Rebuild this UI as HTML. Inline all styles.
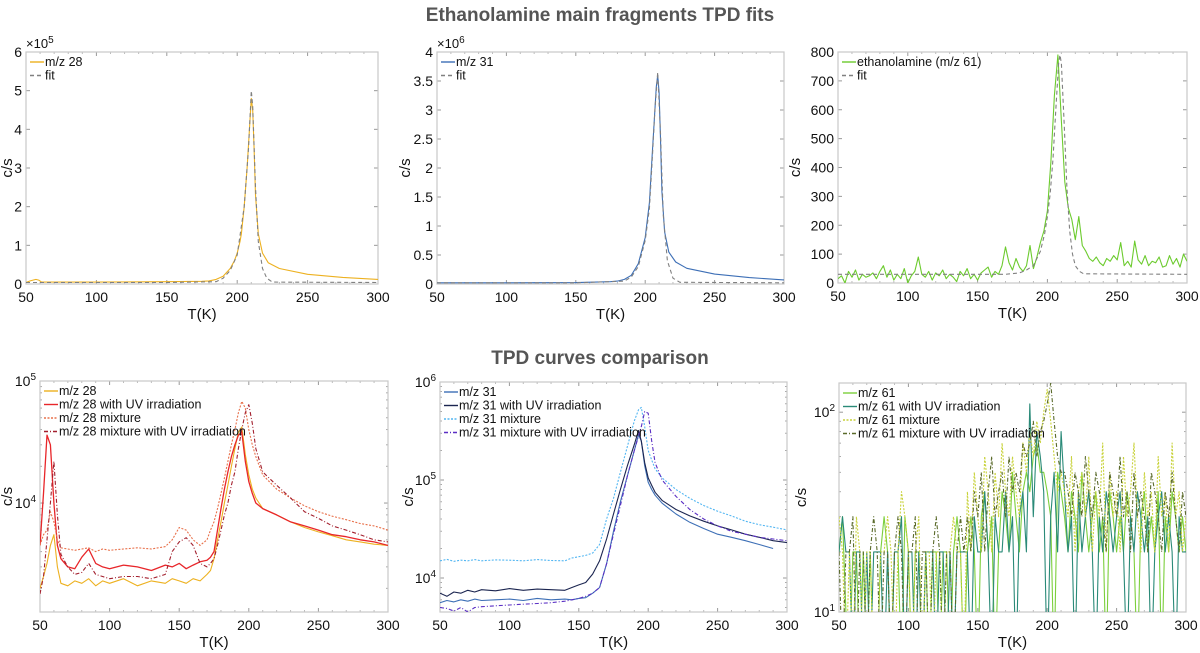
<!DOCTYPE html>
<html><head><meta charset="utf-8">
<style>
body{margin:0;background:#fff;}
svg{display:block;font-family:"Liberation Sans",Arial,sans-serif;}
</style></head>
<body>
<svg id="fig" width="1200" height="653" viewBox="0 0 1200 653">
<text x="600" y="21" text-anchor="middle" font-size="19" font-weight="bold" fill="#555">Ethanolamine main fragments TPD fits</text>
<text x="600" y="364" text-anchor="middle" font-size="19" font-weight="bold" fill="#555">TPD curves comparison</text>
</svg>
<script>
// ---- Top-left: m/z 28 (x1e5)
const tA_T=[50,53,55,57,59,61,65,100,150,175,180,185,190,195,198,200,202,203,205,207,209,210,211,212,213,215,218,222,230,250,275,300];
const tA_v=[0.04,0.08,0.1,0.12,0.1,0.05,0.05,0.05,0.06,0.07,0.08,0.12,0.2,0.4,0.6,0.8,1.1,1.3,2.0,3.0,4.2,4.8,4.5,3.5,2.3,1.3,0.8,0.55,0.4,0.25,0.17,0.12];
const tAfit_T=[50,150,185,190,195,200,205,208,210,211,213,215,218,221,225,300];
const tAfit_v=[0.04,0.04,0.06,0.15,0.35,0.75,2.0,3.5,5.0,4.6,2.5,1.1,0.4,0.15,0.05,0.04];
// ---- Top-mid: m/z 31 (x1e6)
const tB_T=[50,100,150,175,180,185,190,195,200,203,205,207,208,209,210,211,212,214,217,222,230,250,275,300];
const tB_v=[0.02,0.02,0.025,0.04,0.05,0.08,0.15,0.35,0.8,1.4,2.2,3.0,3.4,3.6,3.3,2.5,1.6,0.9,0.55,0.38,0.27,0.17,0.11,0.07];
const tBfit_T=[50,150,185,190,195,200,203,205,207,209,211,213,216,220,225,300];
const tBfit_v=[0.02,0.02,0.05,0.12,0.3,0.75,1.3,2.1,3.0,3.65,2.6,1.2,0.4,0.1,0.03,0.02];
// ---- Top-right: m/z 61 (step 2.5 from 50)
const tC_v=[15,25,0,40,20,45,10,30,20,25,35,15,40,60,20,45,10,30,15,50,0,25,40,90,30,20,40,10,35,25,45,15,30,20,5,40,25,50,15,30,10,35,45,55,20,40,30,
60,125,70,45,85,55,40,60,130,50,
90,140,180,250,420,650,790,560,350,260,
220,150,230,130,110,85,75,90,70,60,85,75,95,80,140,60,75,55,145,80,65,95,60,75,70,90,55,60,95,65,85,55,100,75];
const tCfit_T=[50,170,180,185,190,195,198,200,202,204,206,208,209,210,212,214,216,218,220,223,226,300];
const tCfit_v=[30,30,35,45,60,110,170,230,310,430,600,760,790,760,550,330,180,100,60,40,32,30];
// ---- Bottom-left (x1e3), step 2.5 keypoints
const bA_T=[50,52.5,55,57.5,60,62.5,65,70,75,80,85,90,95,100,110,120,130,140,145,150,155,160,165,170,172.5,175,177.5,180,182.5,185,187.5,190,192.5,195,197.5,200,202.5,205,210,220,230,240,250,260,270,280,290,300];
const bA_s1=[2.0,2.5,3.2,4.5,5.5,3.0,2.2,2.1,2.3,2.2,2.4,2.1,2.3,2.2,2.4,2.1,2.3,2.2,2.4,2.3,2.2,2.4,2.3,2.6,2.8,3.5,5,7,10,14,20,28,38,42,25,17,13,11,9,8,7,6.3,5.8,5.4,5.0,4.8,4.6,4.5];
const bA_s2=[4.5,12,36,30,10,4.5,3.5,3.0,2.9,3.6,4.2,3.2,3.0,2.9,3.1,3.0,2.8,3.1,3.0,3.2,2.9,3.1,3.3,3.4,3.6,4,6,9,13,18,24,30,36,38,22,15,12,10,9,8,7,6.5,6,5.5,5.3,5,4.8,4.5];
const bA_s3=[4.5,5.5,6,8.5,7,5,4.3,4.2,4.1,4.2,4.3,4.0,4.2,4.1,4.2,4.3,4.2,4.4,5,6.3,6,5,4.5,5,6,7,9,12,16,22,30,40,55,68,60,40,30,24,17,13,11,9.5,8.5,7.8,7.3,6.8,6.5,6];
const bA_s4=[1.8,2.5,5,10,22,8,3.8,3,2.6,2.7,3.2,2.6,2.5,2.4,2.5,2.5,2.4,2.6,4,4.8,5.2,4.5,3.2,3,3.2,3.5,4.5,6,8,10,14,18,28,40,55,64,45,28,18,14,11,8.5,7.5,6.5,6,5.5,5,4.8];
// ---- Bottom-mid (x1e3)
const bB_T=[50,55,60,65,70,75,80,90,100,110,120,130,140,145,150,155,160,165,170,175,180,185,190,193,195,197.5,200,202.5,205,210,220,230,240,250,260,270,280,290,300];
const bB_s1=[5.6,5.9,5.7,6.0,5.8,6.1,5.9,6.0,6.1,5.9,6.2,6.0,6.1,6.0,6.2,6.3,7,8,14,30,60,110,200,290,250,140,95,80,70,58,45,37,32,28,26,24,22,20,null];
const bB_s2=[7,6.5,7.2,7.0,7.5,7.2,7.6,7.4,7.8,7.5,7.7,7.6,7.5,8,8.5,9,11,15,25,45,80,140,230,320,250,150,105,88,75,62,50,43,38,34,31,28,26,24,23];
const bB_s3=[15,15.5,14.8,15.2,15,15.4,15,15.3,15.2,15,15.4,15.1,15,16,16.5,17,18,22,40,65,120,220,400,520,550,350,200,160,130,105,80,65,55,48,43,38,35,33,31];
const bB_s4=[5,4.9,4.6,5,4.5,5,5.1,5.2,5.3,5.4,5.5,5.6,5.8,6,6.2,6.5,7,8,14,28,55,110,200,280,350,500,480,250,150,100,68,50,40,34,30,28,26,25,24];
// ---- Bottom-right (step 2.5 from 50), 5 = below axis
const bC_s1=[20,30,10,5,20,20,5,20,5,20,5,5,20,30,20,5,20,20,5,30,20,5,20,20,5,20,5,20,20,5,20,20,5,20,30,20,5,
20,30,20,5,30,40,20,30,5,20,40,30,20,50,30,20,40,50,
40,60,70,50,50,40,30,5,50,40,
30,20,40,30,20,50,30,20,30,40,20,30,5,40,30,20,30,20,40,30,20,5,30,40,20,30,20,40,5,30,20,40,30,20,30,20];
const bC_s2=[20,30,20,20,5,20,20,5,20,5,20,20,20,5,20,5,20,20,30,5,20,20,5,20,5,20,20,20,5,20,20,5,20,5,20,20,20,
20,5,30,20,20,40,20,5,30,20,20,40,20,30,5,30,40,20,
110,30,80,60,40,5,30,50,20,80,
40,20,30,5,40,20,30,40,20,5,30,20,40,30,20,30,40,20,5,30,20,40,30,20,30,5,20,30,40,20,30,20,5,30,20,20];
const bC_s3=[30,20,5,20,5,30,20,5,20,20,5,5,20,20,30,20,5,20,40,30,20,5,20,30,5,20,20,5,20,20,5,20,20,30,20,20,5,
40,20,50,30,20,60,40,20,50,30,70,40,30,60,40,30,70,50,
80,60,90,70,100,130,90,60,40,50,
40,30,60,20,40,50,30,60,20,40,30,70,20,50,30,40,20,60,30,40,70,30,20,50,30,40,20,60,30,40,20,70,30,40,20,30];
const bC_s4=[20,5,20,20,30,5,20,20,5,20,30,20,5,20,20,5,20,30,20,5,20,20,30,5,20,20,5,20,30,20,5,20,20,5,20,30,20,
30,20,40,30,50,20,40,60,30,40,50,30,60,40,50,40,70,60,
70,90,60,80,90,110,140,90,60,50,
50,40,30,50,40,30,60,40,30,50,40,30,20,50,40,30,60,30,40,20,50,30,40,30,20,50,40,30,20,40,30,50,30,20,40,30];

const NS='http://www.w3.org/2000/svg';
const svg=document.getElementById('fig');
function mk(tag,attrs,parent){const e=document.createElementNS(NS,tag);for(const k in attrs)e.setAttribute(k,attrs[k]);(parent||svg).appendChild(e);return e;}
function grid(n){const a=[];for(let i=0;i<n;i++)a.push(50+2.5*i);return a;}
let clipN=0;
function panel(p){
  const g=mk('g',{});
  
  
  const X=t=>p.x0+(t-50)/250*(p.x1-p.x0);
  const Y=p.log?(v=>p.y1-(Math.log10(v)-Math.log10(p.ymin))/(Math.log10(p.ymax)-Math.log10(p.ymin))*(p.y1-p.y0))
               :(v=>p.y1-(v-p.ymin)/(p.ymax-p.ymin)*(p.y1-p.y0));
  const id='c'+(clipN++);
  const cp=mk('clipPath',{id:id},g);mk('rect',{x:p.x0,y:p.y0,width:p.x1-p.x0,height:p.y1-p.y0},cp);
  // x ticks
  for(let t=50;t<=300;t+=50){
    const x=X(t);
    const tk=mk('line',{x1:x,x2:x,y1:p.y1,y2:p.y1-4,stroke:'#999','stroke-width':1},g);
    mk('line',{x1:x,x2:x,y1:p.y0,y2:p.y0+4,stroke:'#999','stroke-width':1},g);
    const lb=mk('text',{x:x,y:p.y1+18,'text-anchor':'middle','font-size':14,fill:'#111'},g);
    lb.textContent=t;
    
    
  }
  for(let t=60;t<300;t+=10){if(t%50===0)continue;const x=X(t);
    mk('line',{x1:x,x2:x,y1:p.y1,y2:p.y1-2,stroke:'#bbb'},g);mk('line',{x1:x,x2:x,y1:p.y0,y2:p.y0+2,stroke:'#bbb'},g);}
  // y ticks
  p.yticks.forEach((v,i)=>{
    const y=Y(v);
    mk('line',{x1:p.x0,x2:p.x0+4,y1:y,y2:y,stroke:'#999'},g);
    mk('line',{x1:p.x1,x2:p.x1-4,y1:y,y2:y,stroke:'#999'},g);
    const lb=mk('text',{x:p.x0-4,y:y+5,'text-anchor':'end','font-size':14,fill:'#111'},g);
    
    
    if(p.log){lb.textContent='10';const s=mk('tspan',{dy:-6,'font-size':10},lb);s.textContent=p.ylabels[i];}
    else lb.textContent=p.ylabels[i];
  });
  if(p.minor)p.minor.forEach(v=>{const y=Y(v);mk('line',{x1:p.x0,x2:p.x0+2,y1:y,y2:y,stroke:'#aaa'},g);mk('line',{x1:p.x1,x2:p.x1-2,y1:y,y2:y,stroke:'#aaa'},g);});
  const box=mk('rect',{x:p.x0,y:p.y0,width:p.x1-p.x0,height:p.y1-p.y0,fill:'none',stroke:'#c8c8c8','stroke-width':1.2},g);
  
  
  const xl=mk('text',{x:(p.x0+p.x1)/2,y:p.y1+35,'text-anchor':'middle','font-size':15,fill:'#111'},g);
  xl.textContent='T(K)';
  
  
  const yx=p.ylx, yy=(p.y0+p.y1)/2;
  const yl=mk('text',{x:yx,y:yy,'text-anchor':'middle','font-size':15,fill:'#111',transform:`rotate(-90 ${yx} ${yy})`},g);
  yl.textContent='c/s';
  
  
  if(p.exp){const e=mk('text',{x:p.x0,y:p.y0-4,'font-size':13,fill:'#111'},g);e.textContent='\u00d710';const s=mk('tspan',{dy:-5,'font-size':10},e);s.textContent=p.exp;
    }
  // series
  const sg=mk('g',{'clip-path':`url(#${id})`},g);
  p.series.forEach((s,k)=>{
    let d='';let pen=false;
    s.T.forEach((t,i)=>{const v=s.v[i];if(v===null||v===undefined){pen=false;return;}
      const vv=p.log?Math.max(v,p.ymin*0.5):v;
      d+=(pen?'L':'M')+X(t).toFixed(1)+','+Y(vv).toFixed(1);pen=true;});
    const pa=mk('path',{d:d,fill:'none',stroke:s.color,'stroke-width':s.w||1.1,'stroke-dasharray':s.dash||'none','stroke-linejoin':'round'},sg);
    
    
    // legend
    const ly=p.y0+14+k*13.5;
    mk('line',{x1:p.x0+4,x2:p.x0+18,y1:ly-4,y2:ly-4,stroke:s.color,'stroke-width':1.4,'stroke-dasharray':s.dash||'none'},g);
    const lt=mk('text',{x:p.x0+19,y:ly,'font-size':12.5,fill:'#111'},g);
    lt.textContent=s.label;
    
    
  });
}
const mul=(a,m)=>a.map(v=>v===null?null:v*m);
const G=grid(101);
panel({name:'panel-mz28-fit',x0:26,x1:378,y0:52,y1:284,ymin:0,ymax:6e5,ylx:12,exp:'5',
  yticks:[0,1e5,2e5,3e5,4e5,5e5,6e5],ylabels:['0','1','2','3','4','5','6'],
  series:[{key:'mz28',label:'m/z 28',color:'#EDB120',T:tA_T,v:mul(tA_v,1e5)},
          {key:'fit28',label:'fit',color:'#808080',dash:'4,3',T:tAfit_T,v:mul(tAfit_v,1e5)}]});
panel({name:'panel-mz31-fit',x0:437,x1:784,y0:52,y1:284,ymin:0,ymax:4e6,ylx:410,exp:'6',
  yticks:[0,5e5,1e6,1.5e6,2e6,2.5e6,3e6,3.5e6,4e6],ylabels:['0','0.5','1','1.5','2','2.5','3','3.5','4'],
  series:[{key:'mz31',label:'m/z 31',color:'#3D6FB6',T:tB_T,v:mul(tB_v,1e6)},
          {key:'fit31',label:'fit',color:'#808080',dash:'4,3',T:tBfit_T,v:mul(tBfit_v,1e6)}]});
panel({name:'panel-mz61-fit',x0:838,x1:1187,y0:52,y1:283,ymin:0,ymax:800,ylx:800,
  yticks:[0,100,200,300,400,500,600,700,800],ylabels:['0','100','200','300','400','500','600','700','800'],
  series:[{key:'mz61',label:'ethanolamine (m/z 61)',color:'#6CCB2E',T:G,v:tC_v},
          {key:'fit61',label:'fit',color:'#808080',dash:'4,3',T:tCfit_T,v:tCfit_v}]});
panel({name:'panel-mz28-compare',x0:40,x1:388,y0:381,y1:612,log:true,ymin:1280,ymax:1e5,ylx:12,
  yticks:[1e4,1e5],ylabels:['4','5'],minor:[2e3,3e3,4e3,5e3,6e3,7e3,8e3,9e3,2e4,3e4,4e4,5e4,6e4,7e4,8e4,9e4],
  series:[{key:'mz28',label:'m/z 28',color:'#EDB120',T:bA_T,v:mul(bA_s1,1e3)},
          {key:'mz28-uv',label:'m/z 28 with UV irradiation',color:'#E8262A',w:1.3,T:bA_T,v:mul(bA_s2,1e3)},
          {key:'mz28-mix',label:'m/z 28 mixture',color:'#E8704A',dash:'2,1.5',T:bA_T,v:mul(bA_s3,1e3)},
          {key:'mz28-mix-uv',label:'m/z 28 mixture with UV irradiation',color:'#A3202E',dash:'4,2,1,2',T:bA_T,v:mul(bA_s4,1e3)}]});
panel({name:'panel-mz31-compare',x0:440,x1:787,y0:382,y1:612,log:true,ymin:4500,ymax:1e6,ylx:413,
  yticks:[1e4,1e5,1e6],ylabels:['4','5','6'],minor:[5e3,6e3,7e3,8e3,9e3,2e4,3e4,4e4,5e4,6e4,7e4,8e4,9e4,2e5,3e5,4e5,5e5,6e5,7e5,8e5,9e5],
  series:[{key:'mz31',label:'m/z 31',color:'#3D6FB6',T:bB_T,v:mul(bB_s1,1e3)},
          {key:'mz31-uv',label:'m/z 31 with UV irradiation',color:'#1B2550',T:bB_T,v:mul(bB_s2,1e3)},
          {key:'mz31-mix',label:'m/z 31 mixture',color:'#52B6F2',dash:'2,1.5',T:bB_T,v:mul(bB_s3,1e3)},
          {key:'mz31-mix-uv',label:'m/z 31 mixture with UV irradiation',color:'#5A2FC4',dash:'4,2,1,2',T:bB_T,v:mul(bB_s4,1e3)}]});
panel({name:'panel-mz61-compare',x0:839,x1:1186,y0:383,y1:612,log:true,ymin:10,ymax:140,ylx:806,
  yticks:[10,100],ylabels:['1','2'],minor:[20,30,40,50,60,70,80,90],
  series:[{key:'mz61',label:'m/z 61',color:'#7CCF3C',T:G,v:bC_s1},
          {key:'mz61-uv',label:'m/z 61 with UV irradiation',color:'#2A8A78',T:G,v:bC_s2},
          {key:'mz61-mix',label:'m/z 61 mixture',color:'#C8D23A',dash:'2,1.5',T:G,v:bC_s3},
          {key:'mz61-mix-uv',label:'m/z 61 mixture with UV irradiation',color:'#5A6A2A',dash:'4,2,1,2',T:G,v:bC_s4}]});
</script>
</body></html>
